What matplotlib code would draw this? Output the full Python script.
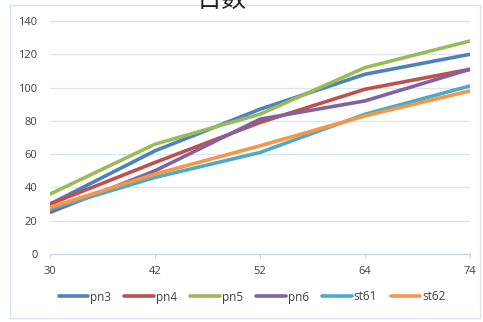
import numpy as np
import matplotlib.pyplot as plt
from matplotlib.patches import Rectangle

plt.rcParams['font.family'] = ['Open Sans', 'Noto Sans CJK SC', 'DejaVu Sans']

days = ["30", "42", "52", "64", "74"]
pn3 = [30, 62, 87, 108, 120]
pn4 = [30, 55, 79, 99, 111]
pn5 = [36, 66, 84, 112, 128]
pn6 = [25, 50, 81, 92, 111]
st61 = [27, 46, 61, 84, 101]
st62 = [28, 48, 65, 83, 98]

series = [("pn3", pn3, "#4F81BD"), ("pn4", pn4, "#C0504D"), ("pn5", pn5, "#9BBB59"),
          ("pn6", pn6, "#8064A2"), ("st61", st61, "#4BACC6"), ("st62", st62, "#F79646")]

fig = plt.figure(figsize=(4.83, 3.22), dpi=100)
ax = fig.add_axes([50/483, 1 - 254/322, 420/483, 233/322])

x = np.arange(len(days))
for name, vals, col in series:
    ax.plot(x, vals, color=col, lw=2.6, label=name, solid_capstyle="round")

ax.set_xlim(0, len(days) - 1)
ax.set_ylim(0, 140)
ax.set_yticks(range(0, 141, 20))
ax.set_xticks(x)
ax.set_xticklabels(days)
ax.yaxis.grid(True, color="#DCE4EE", lw=0.9)
ax.set_axisbelow(True)
for s in ["top", "right", "left"]:
    ax.spines[s].set_visible(False)
ax.spines["bottom"].set_color("#C8D3E2")
ax.tick_params(axis="y", length=0, pad=9, labelsize=8, labelcolor="#404040")
ax.tick_params(axis="x", length=3, color="#C8D3E2", pad=6, labelsize=8, labelcolor="#404040")

fig.text(222/483, 1.0, "日数", ha="center", va="center", fontsize=18, color="#222222")

fig.patches.append(Rectangle((10/483, 4/322), 470/483, 313/322, transform=fig.transFigure,
                             fill=False, edgecolor="#D9E2EE", lw=1))

ax.legend(loc="center", bbox_to_anchor=(252/483, 1 - 297/322), bbox_transform=fig.transFigure,
          ncol=6, frameon=False, fontsize=8.5, handlelength=2.5, handletextpad=0.15,
          columnspacing=1.15, labelcolor="#404040")

fig.savefig("out.png", dpi=100)
